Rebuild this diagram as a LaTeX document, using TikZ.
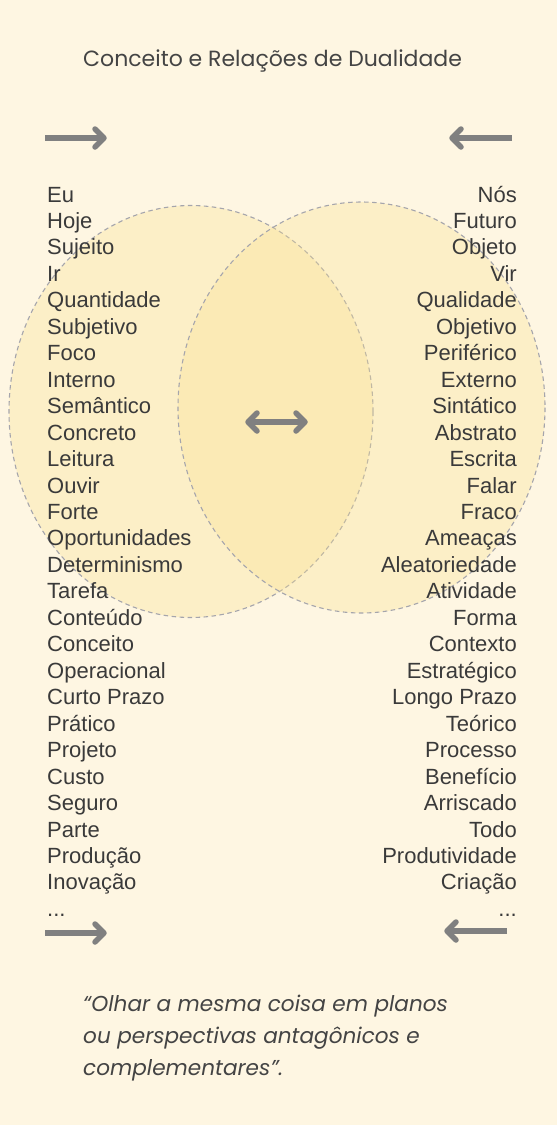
\documentclass[tikz,border=0pt]{standalone}
\usepackage{fontspec}
\usetikzlibrary{calc}
\setmainfont{Liberation Sans}
\newfontfamily\headfont{Poppins}
\definecolor{bgc}{RGB}{254,246,226}
\definecolor{circfill}{RGB}{250,225,145}
\definecolor{circline}{RGB}{165,165,172}
\definecolor{arrowgray}{RGB}{128,128,128}
\definecolor{txt}{RGB}{58,58,58}
\definecolor{headc}{RGB}{68,68,68}
\tikzset{
  vennc/.style={fill=circfill, fill opacity=0.32, draw=circline, draw opacity=1, line width=1.1pt, dash pattern=on 4.5pt off 3.5pt},
  lefttext/.style={anchor=base west, inner sep=0pt, text=txt, font=\fontsize{22}{26}\selectfont},
  righttext/.style={anchor=base east, inner sep=0pt, text=txt, font=\fontsize{22}{26}\selectfont},
  titletext/.style={anchor=base west, inner sep=0pt, text=headc, font=\headfont\fontsize{22}{26}\selectfont},
  quotetext/.style={anchor=base west, inner sep=0pt, text=headc, font=\headfont\itshape\fontsize{21.6}{26}\selectfont},
  shaft/.style={draw=arrowgray, line width=5.5pt},
  chev/.style={draw=arrowgray, line width=5.5pt, line cap=round, line join=round}
}
\begin{document}
\begin{tikzpicture}[x=1pt,y=-1pt]
\fill[bgc] (0,0) rectangle (557,1125);
\useasboundingbox (0,0) rectangle (557,1125);

% Venn circles
\path[vennc] (191,411.5) ellipse [x radius=182, y radius=206];
\path[vennc] (361.5,407.5) ellipse [x radius=183.5, y radius=205.5];

% title
\node[titletext] (title) at (83,66) {Conceito e Relações de Dualidade};

% top arrows
\coordinate (tlA) at (45,138); \coordinate (tlB) at (104,138);
\draw[shaft] (tlA) -- (tlB);
\draw[chev] ($(tlB)+(-9,-9)$) -- (tlB) -- ($(tlB)+(-9,9)$);
\coordinate (trA) at (512,138); \coordinate (trB) at (452,138);
\draw[shaft] (trA) -- (trB);
\draw[chev] ($(trB)+(9,-9)$) -- (trB) -- ($(trB)+(9,9)$);

% bottom arrows
\coordinate (blA) at (45,933); \coordinate (blB) at (104,933);
\draw[shaft] (blA) -- (blB);
\draw[chev] ($(blB)+(-9,-9)$) -- (blB) -- ($(blB)+(-9,9)$);
\coordinate (brA) at (507,931); \coordinate (brB) at (447,931);
\draw[shaft] (brA) -- (brB);
\draw[chev] ($(brB)+(9,-9)$) -- (brB) -- ($(brB)+(9,9)$);

% middle double arrow
\coordinate (mA) at (248,422); \coordinate (mB) at (305,422);
\draw[shaft] (mA) -- (mB);
\draw[chev] ($(mA)+(9,-9)$) -- (mA) -- ($(mA)+(9,9)$);
\draw[chev] ($(mB)+(-9,-9)$) -- (mB) -- ($(mB)+(-9,9)$);

% left column
\foreach \w [count=\i from 0] in {Eu,Hoje,Sujeito,Ir,Quantidade,Subjetivo,Foco,Interno,Semântico,Concreto,Leitura,Ouvir,Forte,Oportunidades,Determinismo,Tarefa,Conteúdo,Conceito,Operacional,Curto Prazo,Prático,Projeto,Custo,Seguro,Parte,Produção,Inovação}
  \node[lefttext] (l\i) at (47,202+\i*26.46) {\w};
\node[lefttext] (ldots) at (47,202+27*26.46) {...};

% right column
\foreach \w [count=\i from 0] in {Nós,Futuro,Objeto,Vir,Qualidade,Objetivo,Periférico,Externo,Sintático,Abstrato,Escrita,Falar,Fraco,Ameaças,Aleatoriedade,Atividade,Forma,Contexto,Estratégico,Longo Prazo,Teórico,Processo,Benefício,Arriscado,Todo,Produtividade,Criação}
  \node[righttext] (r\i) at (517,202+\i*26.46) {\w};
\node[righttext] (rdots) at (517,202+27*26.46) {...};

% quote
\node[quotetext] (q1) at (83,1011) {“Olhar a mesma coisa em planos};
\node[quotetext] (q2) at (83,1043) {ou perspectivas antagônicos e};
\node[quotetext] (q3) at (83,1075) {complementares”.};
\end{tikzpicture}
\end{document}
